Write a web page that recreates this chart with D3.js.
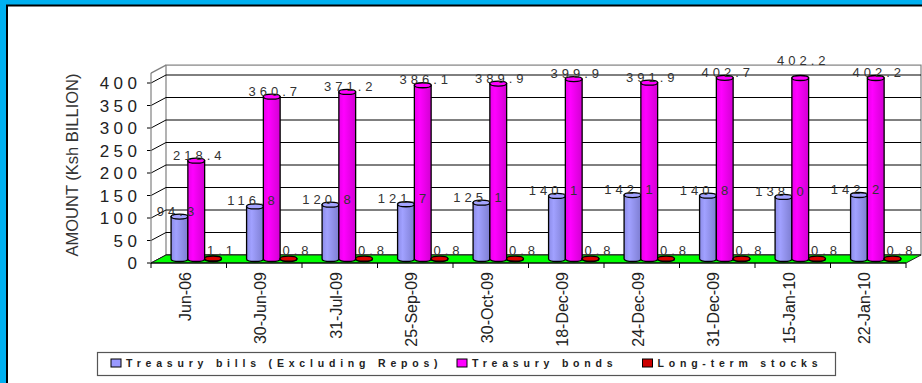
<!DOCTYPE html>
<html>
<head>
<meta charset="utf-8">
<script src="https://cdn.jsdelivr.net/npm/d3@7"></script>
<style>
  html, body { margin: 0; padding: 0; background: #00B0F0; }
  svg { display: block; }
</style>
</head>
<body>
<svg id="chart" width="922" height="383"></svg>
<script>
// ---------------- data ----------------
const categories = ["Jun-06", "30-Jun-09", "31-Jul-09", "25-Sep-09", "30-Oct-09",
                    "18-Dec-09", "24-Dec-09", "31-Dec-09", "15-Jan-10", "22-Jan-10"];
const treasuryBills = [94.3, 116.8, 120.8, 121.7, 125.1, 140.1, 142.1, 140.8, 138.0, 142.2];
const treasuryBonds = [218.4, 360.7, 371.2, 386.1, 389.9, 399.9, 391.9, 402.7, 402.2, 402.2];
const longTermStocks = [1.1, 0.8, 0.8, 0.8, 0.8, 0.8, 0.8, 0.8, 0.8, 0.8];
const seriesNames = ["Treasury bills (Excluding Repos)", "Treasury bonds", "Long-term stocks"];
const yTicks = [0, 50, 100, 150, 200, 250, 300, 350, 400];
const yTitle = "AMOUNT (Ksh BILLION)";

// ---------------- styles / layout ----------------
const colors = ["#9999FF", "#FF00FF", "#CC0000"];
const FONT = "'Liberation Sans', Arial, sans-serif";
const X0 = 151, X1 = 906;       // front plane x-range
const DX = 15, DY = -8;          // 3-D depth offset
const WALL_TOP = 422;
const labelDX = [-4, 1, 7];      // per-series label shift
const labelDY = [0, 0, -3];

const svg = d3.select("#chart");

// frame
svg.append("rect").attr("x", 0).attr("y", 0).attr("width", 922).attr("height", 383).attr("fill", "#00B0F0");
svg.append("rect").attr("x", 7).attr("y", 5.5).attr("width", 930).attr("height", 400)
  .attr("fill", "#fff").attr("stroke", "#000").attr("stroke-width", 2);

const y = d3.scaleLinear().domain([0, 400]).range([263, 83]);
const x = d3.scaleBand().domain(categories).range([X0, X1]);
const bw = x.bandwidth();
const xs = d3.scaleBand().domain(seriesNames).range([bw / 6, bw * 5 / 6]);

const series = [treasuryBills, treasuryBonds, longTermStocks];

// gradients
const defs = svg.append("defs");
colors.forEach((c, i) => {
  const g = defs.append("linearGradient").attr("id", "g" + i)
    .attr("x1", "0%").attr("x2", "100%").attr("y1", "0%").attr("y2", "0%");
  g.append("stop").attr("offset", "0%").attr("stop-color", d3.color(c).darker(0.25));
  g.append("stop").attr("offset", "30%").attr("stop-color", d3.color(c).brighter(0.15));
  g.append("stop").attr("offset", "100%").attr("stop-color", d3.color(c).darker(0.55));
});

// back wall
const wallX0 = X0 + DX, wallX1 = X1 + DX;
svg.append("rect").attr("x", wallX0).attr("y", y(WALL_TOP) + DY)
  .attr("width", wallX1 - wallX0).attr("height", y(0) - y(WALL_TOP))
  .attr("fill", "#fff").attr("stroke", "#808080").attr("stroke-width", 1.2);

// gridlines on back wall + side diagonals
const grid = svg.append("g");
yTicks.forEach(t => {
  grid.append("line").attr("x1", wallX0).attr("x2", wallX1)
    .attr("y1", y(t) + DY).attr("y2", y(t) + DY).attr("stroke", "#000").attr("stroke-width", 1);
  grid.append("line").attr("x1", X0).attr("x2", wallX0)
    .attr("y1", y(t)).attr("y2", y(t) + DY).attr("stroke", "#000").attr("stroke-width", 1);
  grid.append("line").attr("x1", X0 - 4).attr("x2", X0)
    .attr("y1", y(t)).attr("y2", y(t)).attr("stroke", "#000").attr("stroke-width", 1);
});
// side wall outline
svg.append("line").attr("x1", X0).attr("x2", X0).attr("y1", y(0)).attr("y2", y(WALL_TOP))
  .attr("stroke", "#808080").attr("stroke-width", 1.2);
svg.append("line").attr("x1", X0).attr("x2", wallX0).attr("y1", y(WALL_TOP)).attr("y2", y(WALL_TOP) + DY)
  .attr("stroke", "#808080").attr("stroke-width", 1.2);

// y tick labels
svg.append("g").selectAll("text").data(yTicks).join("text")
  .attr("x", 141.5).attr("y", d => y(d)).attr("dy", "0.36em")
  .attr("text-anchor", "end").attr("font-family", FONT).attr("font-size", 17)
  .attr("letter-spacing", 4.5).attr("fill", "#222").text(d => d);

// y title
svg.append("text").attr("transform", "translate(78,165) rotate(-90)")
  .attr("text-anchor", "middle").attr("font-family", FONT).attr("font-size", 16.5)
  .attr("fill", "#333").text(yTitle);

// floor
svg.append("path")
  .attr("d", `M${X0},${y(0)} L${X1},${y(0)} L${X1 + DX},${y(0) + DY} L${X0 + DX},${y(0) + DY} Z`)
  .attr("fill", "#00FF00").attr("stroke", "#222").attr("stroke-width", 1);

// bars (cylinders) at mid-depth
const mdx = DX / 2, mdy = DY / 2;
const w = xs.bandwidth();
const ry = 2.5;
const barsG = svg.append("g");
categories.forEach((cat, ci) => {
  series.forEach((vals, si) => {
    const v = vals[ci];
    const bx = x(cat) + xs(seriesNames[si]) + mdx;
    const top = y(v) + mdy;
    const bot = y(0) + mdy;
    const g = barsG.append("g");
    const path = `M${bx},${top} L${bx},${bot} A${w / 2},${ry} 0 0 0 ${bx + w},${bot} L${bx + w},${top} Z`;
    g.append("path").attr("d", path).attr("fill", `url(#g${si})`)
      .attr("stroke", "#000").attr("stroke-width", 1.3);
    g.append("ellipse").attr("cx", bx + w / 2).attr("cy", top).attr("rx", w / 2).attr("ry", ry)
      .attr("fill", d3.color(colors[si]).brighter(0.2)).attr("stroke", "#000").attr("stroke-width", 1.3);
  });
});

// front x-axis line & ticks
svg.append("line").attr("x1", X0).attr("x2", X1).attr("y1", y(0)).attr("y2", y(0))
  .attr("stroke", "#000").attr("stroke-width", 1.2);
const tickXs = categories.map(c => x(c)).concat([X1]);
svg.append("g").selectAll("line").data(tickXs).join("line")
  .attr("x1", d => d).attr("x2", d => d).attr("y1", y(0)).attr("y2", y(0) + 5)
  .attr("stroke", "#000").attr("stroke-width", 1);

// x labels
svg.append("g").selectAll("text").data(categories).join("text")
  .attr("transform", d => `translate(${x(d) + bw / 2 - 4},272) rotate(-90)`)
  .attr("dy", "0.36em").attr("text-anchor", "end")
  .attr("font-family", FONT).attr("font-size", 16).attr("fill", "#222").text(d => d);

// data labels
const fmt = d3.format(".1f");
const labelG = svg.append("g");
const nudge = { "1-8": -12 };
categories.forEach((cat, ci) => {
  series.forEach((vals, si) => {
    const v = vals[ci];
    const cx = x(cat) + xs(seriesNames[si]) + mdx + w / 2 + 2 + labelDX[si];
    const top = y(v) + mdy;
    labelG.append("text").attr("x", cx).attr("y", top - 1 + labelDY[si] + (nudge[si + "-" + ci] || 0))
      .attr("text-anchor", "middle").attr("font-family", FONT).attr("font-size", 13)
      .attr("letter-spacing", 4).attr("fill", "#333").text(fmt(v));
  });
});

// legend
const lg = svg.append("g");
lg.append("rect").attr("x", 97.5).attr("y", 352.5).attr("width", 738).attr("height", 23)
  .attr("fill", "#fff").attr("stroke", "#555").attr("stroke-width", 1.2);
const legendX = [111, 457, 642.5];
seriesNames.forEach((n, i) => {
  lg.append("rect").attr("x", legendX[i]).attr("y", 359).attr("width", 10).attr("height", 8)
    .attr("fill", colors[i]).attr("stroke", "#000").attr("stroke-width", 1);
  lg.append("text").attr("x", legendX[i] + 15).attr("y", 367)
    .attr("font-family", FONT).attr("font-size", 10.5).attr("font-weight", "bold")
    .attr("letter-spacing", 4.8).attr("fill", "#222").text(n);
});
</script>
</body>
</html>
